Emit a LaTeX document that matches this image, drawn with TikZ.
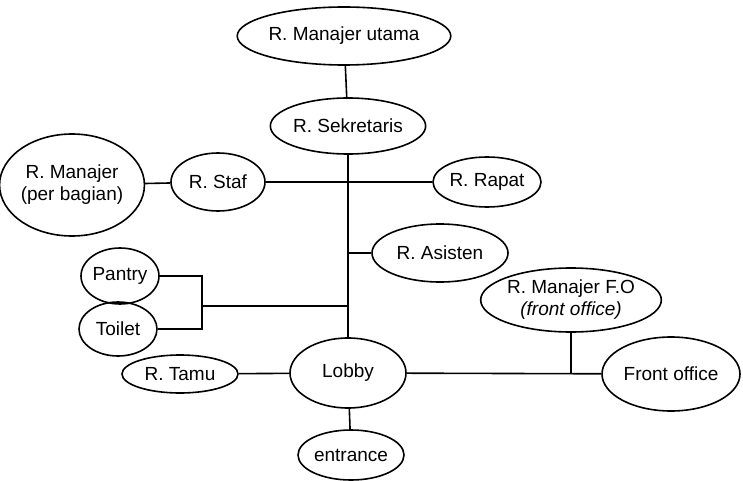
\documentclass[tikz,border=0pt]{standalone}
\usepackage{fontspec}
\setmainfont{Liberation Sans}
\usetikzlibrary{shapes.geometric}
\begin{document}
\begin{tikzpicture}[x=1pt,y=-1pt,
  room/.style={draw, ellipse, line width=1.6pt, inner sep=0pt, align=center,
    font=\fontsize{19}{22}\selectfont},
  link/.style={line width=1.6pt}]
\useasboundingbox (0,0) rectangle (743,481);

% rooms
\node[room, minimum width=182, minimum height=58] (utama)   at (344,36)  {R. Manajer utama};
\node[room, minimum width=140, minimum height=56] (sek)     at (348,126) {R. Sekretaris};
\node[room, minimum width=128, minimum height=102] (mbag)   at (72,185)  {R. Manajer\\(per bagian)};
\node[room, minimum width=94,  minimum height=58] (staf)    at (218,182) {R. Staf};
\node[room, minimum width=108, minimum height=50] (rapat)   at (487,182) {R. Rapat};
\node[room, minimum width=136, minimum height=58] (asisten) at (440,253) {R. Asisten};
\node[room, minimum width=78,  minimum height=56] (pantry)  at (120,276) {Pantry};
\node[room, minimum width=78,  minimum height=54] (toilet)  at (118,329) {Toilet};
\node[room, minimum width=116, minimum height=38] (tamu)    at (180,374) {R. Tamu};
\node[room, minimum width=116, minimum height=70] (lobby)   at (348,373) {Lobby};
\node[room, minimum width=106, minimum height=50] (entr)    at (351,455) {entrance};
\node[room, minimum width=172, minimum height=64] (mfo)     at (571,300) {R. Manajer F.O\\\textit{(front office)}};
\node[room, minimum width=138, minimum height=74] (fo)      at (671,374) {Front office};

% junction points
\coordinate (bx) at (202,306);
\coordinate (foj) at (mfo.south |- lobby.east);

% connectors
\draw[link] (utama) -- (sek);
\draw[link] (sek) -- (lobby);
\draw[link] (mbag) -- (staf);
\draw[link] (staf) -- (rapat);
\draw[link] (asisten.west) -- (asisten.west -| sek.south);
\draw[link] (pantry.east) -| (bx) |- (toilet.east);
\draw[link] (bx) -- (bx -| sek.south);
\draw[link] (tamu) -- (lobby);
\draw[link] (lobby) -- (entr);
\draw[link] (lobby) -- (fo);
\draw[link] (mfo) -- (foj);
\end{tikzpicture}
\end{document}
